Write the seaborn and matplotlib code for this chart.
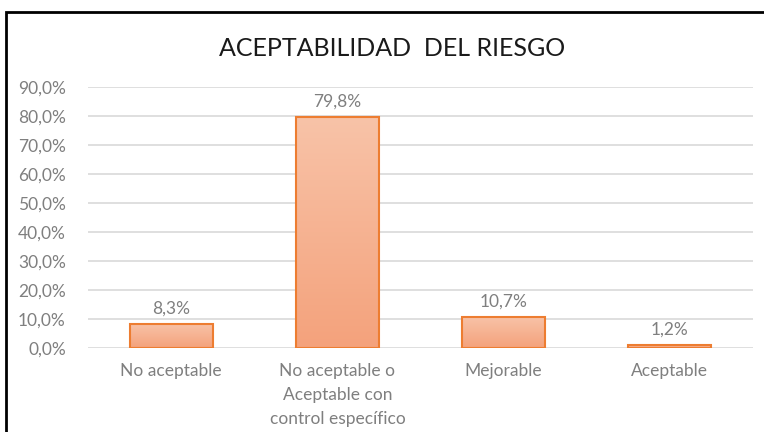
import numpy as np
import pandas as pd
import matplotlib
matplotlib.use('Agg')
import matplotlib.pyplot as plt
import seaborn as sns
from matplotlib.patches import Rectangle
from matplotlib.colors import LinearSegmentedColormap

# ---------- data ----------
categorias = ['No aceptable', 'No aceptable o\nAceptable con\ncontrol específico',
              'Mejorable', 'Aceptable']
porcentajes = [8.3, 79.8, 10.7, 1.2]
yticks = [0, 10, 20, 30, 40, 50, 60, 70, 80, 90]

df = pd.DataFrame({'categoria': categorias, 'pct': porcentajes})

sns.set_theme(style='white')
plt.rcParams['font.family'] = ['Lato', 'DejaVu Sans']

gris = '#7F7F7F'

fig = plt.figure(figsize=(7.64, 4.32), dpi=100)
ax = fig.add_axes([88 / 764, 1 - 348 / 432, 665 / 764, 261 / 432])

sns.barplot(data=df, x='categoria', y='pct', ax=ax, width=0.5,
            color='#F5B190', edgecolor='#ED7D31', linewidth=1.5, zorder=3)

# gradient fill for each bar
grad = LinearSegmentedColormap.from_list('g', ['#F4A27C', '#F8C3A8'])
for p in ax.patches:
    x0, y0 = p.get_x(), p.get_y()
    w, h = p.get_width(), p.get_height()
    im = ax.imshow(np.linspace(0, 1, 100).reshape(-1, 1), cmap=grad, origin='lower',
                   extent=[x0, x0 + w, y0, y0 + h], aspect='auto', zorder=3.5)
    im.set_clip_path(p)
    p.set_facecolor('none')
    p.set_zorder(4)

ax.set_xlim(-0.5, 3.5)
ax.set_ylim(0, 90)
ax.set_yticks(yticks)
ax.set_yticklabels([f'{v:.1f}%'.replace('.', ',') for v in yticks])
ax.yaxis.grid(True, color='#D9D9D9', linewidth=1.2, zorder=0)
ax.set_axisbelow(True)
for s in ax.spines.values():
    s.set_visible(False)
ax.tick_params(axis='both', length=0, labelsize=12.5, labelcolor=gris)
ax.tick_params(axis='y', pad=16)
ax.tick_params(axis='x', pad=11)
ax.set_xlabel('')
ax.set_ylabel('')
for lbl in ax.get_xticklabels():
    lbl.set_linespacing(1.6)

for i, v in enumerate(porcentajes):
    ax.annotate(f'{v:.1f}%'.replace('.', ','), (i, v), xytext=(0, 5),
                textcoords='offset points', ha='center', va='bottom',
                fontsize=12.5, color=gris)

fig.text(392 / 764, 1 - 48 / 432, 'ACEPTABILIDAD  DEL RIESGO', ha='center', va='center',
         fontsize=18, color='#1a1a1a')

# outer frame
fig.patches.append(Rectangle((6 / 764, -0.05), 1.0, 1 - 12 / 432 + 0.05,
                             transform=fig.transFigure, fill=False,
                             edgecolor='black', linewidth=2, clip_on=False))

fig.savefig('out.png', dpi=100, facecolor='white')
